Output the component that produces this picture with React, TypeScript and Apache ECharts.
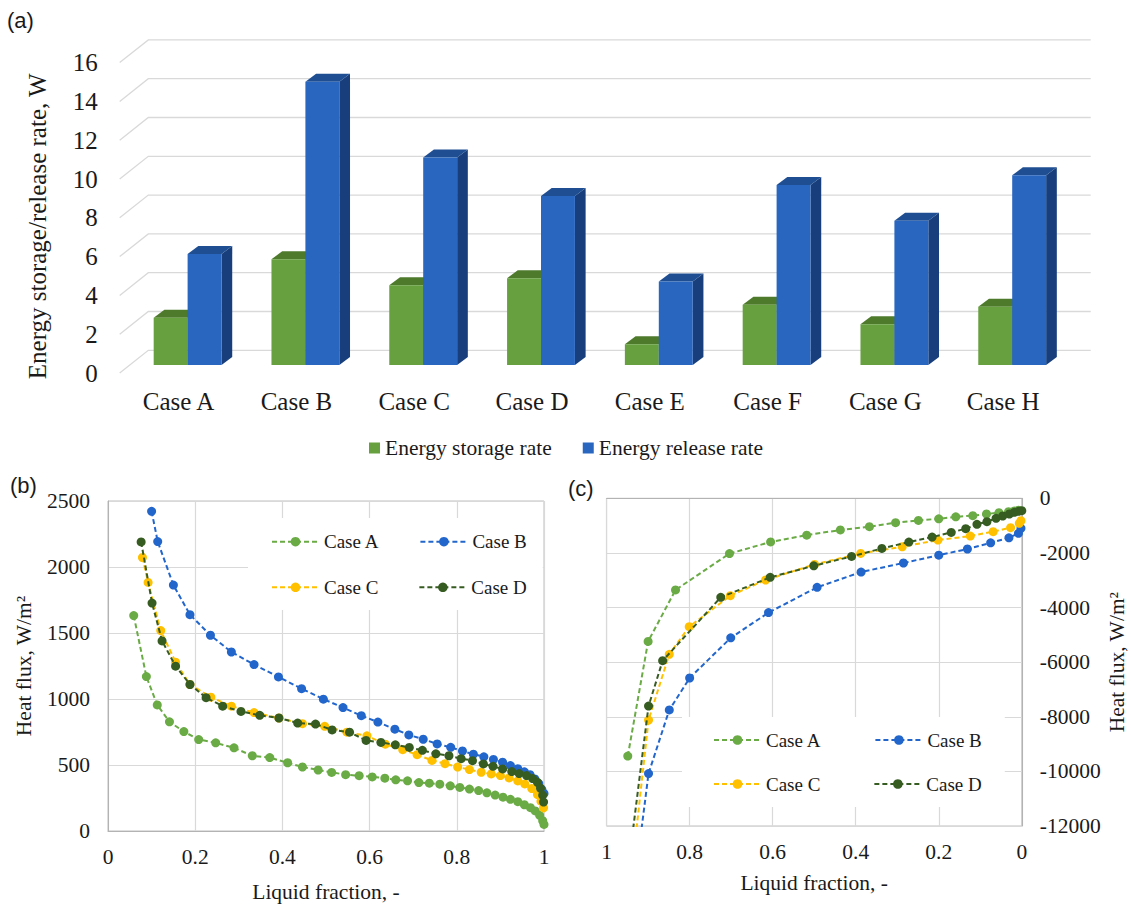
import React, { useEffect, useRef } from 'react';
import * as echarts from 'echarts';

// ---------- Panel (a) data ----------
const barCategories = ['Case A', 'Case B', 'Case C', 'Case D', 'Case E', 'Case F', 'Case G', 'Case H'];
const storageRate = [2.44, 5.45, 4.11, 4.47, 1.07, 3.11, 2.1, 3.0];
const releaseRate = [5.72, 14.6, 10.7, 8.71, 4.3, 9.28, 7.44, 9.78];
const barTicks = [0, 2, 4, 6, 8, 10, 12, 14, 16];

// ---------- Panel (b) data ----------
const bAx = [0.059, 0.088, 0.113, 0.141, 0.174, 0.208, 0.247, 0.289, 0.331, 0.371, 0.412, 0.446, 0.482, 0.513, 0.545, 0.576, 0.606, 0.635, 0.66, 0.687, 0.713, 0.737, 0.761, 0.785, 0.807, 0.829, 0.85, 0.869, 0.888, 0.906, 0.923, 0.94, 0.955, 0.969, 0.98, 0.99, 0.997, 1.0];
const bAy = [1632, 1170, 955, 827, 753, 693, 668, 630, 570, 556, 517, 485, 462, 444, 427, 419, 410, 400, 388, 380, 367, 362, 355, 342, 330, 318, 306, 289, 272, 256, 240, 222, 199, 177, 152, 119, 78, 50];
const bBx = [0.1, 0.114, 0.15, 0.188, 0.235, 0.283, 0.335, 0.391, 0.444, 0.494, 0.539, 0.581, 0.619, 0.658, 0.69, 0.723, 0.755, 0.786, 0.813, 0.838, 0.862, 0.884, 0.905, 0.923, 0.94, 0.955, 0.968, 0.979, 0.988, 0.995, 1.0];
const bBy = [2422, 2193, 1863, 1639, 1483, 1356, 1261, 1167, 1078, 999, 935, 874, 825, 771, 728, 695, 660, 634, 606, 582, 562, 542, 521, 496, 472, 448, 426, 394, 359, 315, 285];
const bCx = [0.079, 0.092, 0.121, 0.155, 0.188, 0.236, 0.283, 0.335, 0.392, 0.446, 0.497, 0.548, 0.594, 0.636, 0.676, 0.709, 0.743, 0.773, 0.802, 0.829, 0.856, 0.879, 0.9, 0.92, 0.94, 0.956, 0.972, 0.985, 0.993, 0.999];
const bCy = [2072, 1883, 1518, 1279, 1110, 1014, 946, 897, 856, 813, 793, 749, 721, 658, 616, 578, 535, 510, 485, 465, 445, 432, 420, 402, 379, 357, 322, 276, 226, 176];
const bDx = [0.076, 0.101, 0.124, 0.155, 0.188, 0.225, 0.263, 0.305, 0.348, 0.392, 0.435, 0.476, 0.514, 0.554, 0.592, 0.626, 0.659, 0.691, 0.721, 0.752, 0.782, 0.81, 0.836, 0.861, 0.883, 0.905, 0.926, 0.943, 0.96, 0.974, 0.985, 0.992, 0.997, 0.999];
const bDy = [2190, 1727, 1440, 1249, 1110, 1010, 946, 906, 876, 856, 818, 810, 766, 749, 686, 671, 653, 633, 611, 585, 570, 548, 533, 508, 490, 470, 450, 435, 420, 397, 369, 324, 271, 219];

// ---------- Panel (c) data ----------
const cAx = [0.949, 0.9, 0.834, 0.704, 0.605, 0.518, 0.437, 0.367, 0.304, 0.249, 0.2, 0.159, 0.118, 0.085, 0.055, 0.032, 0.018, 0.008];
const cAy = [-9440, -5240, -3356, -2025, -1599, -1349, -1160, -1039, -892, -810, -750, -680, -635, -575, -526, -489, -462, -435];
const cBx = [0.94, 0.899, 0.849, 0.8, 0.701, 0.61, 0.493, 0.387, 0.285, 0.2, 0.131, 0.075, 0.031, 0.008, 0.002];
const cBy = [-15000, -10080, -7750, -6580, -5110, -4185, -3260, -2700, -2370, -2082, -1857, -1630, -1447, -1282, -1100];
const cCx = [0.949, 0.899, 0.849, 0.801, 0.702, 0.617, 0.499, 0.388, 0.288, 0.202, 0.124, 0.069, 0.027, 0.006, 0.002];
const cCy = [-15000, -8120, -5714, -4701, -3565, -2991, -2422, -2018, -1774, -1529, -1382, -1223, -1076, -917, -820];
const cDx = [0.96, 0.899, 0.865, 0.725, 0.606, 0.501, 0.41, 0.337, 0.272, 0.216, 0.17, 0.135, 0.108, 0.084, 0.062, 0.046, 0.03, 0.018, 0.008, 0.0];
const cDy = [-15000, -7607, -5946, -3626, -2894, -2471, -2128, -1835, -1602, -1419, -1248, -1113, -954, -856, -734, -648, -575, -514, -477, -453];

const caseNames = ['Case A', 'Case B', 'Case C', 'Case D'];
const caseColors = ['#6AAB45', '#2266CC', '#FFC000', '#375C22'];

const SERIF = "'Liberation Serif', 'Times New Roman', serif";
const SANS = "'Liberation Sans', Arial, sans-serif";
const TXT = '#1a1a1a';

const zip = (xs: number[], ys: number[]) => xs.map((x, i) => [x, ys[i]]);

// 3D geometry (pixels)
const FRONT = [9, -8];
const DEPTH = [10.7, -8];
const WALL = [28.6, -22.7];
const BAR_RATIO = 0.288;

function barRender(side: number, colors: { front: string; top: string; side: string }) {
  return (params: any, api: any) => {
    const ci = api.value(0);
    const v = api.value(1);
    const base = api.coord([ci, 0]);
    const top = api.coord([ci, v]);
    const bw = api.size([1, 0])[0] * BAR_RATIO;
    const x0 = base[0] + FRONT[0] + (side === 0 ? -bw : 0);
    const x1 = x0 + bw;
    const yb = base[1] + FRONT[1];
    const yt = top[1] + FRONT[1];
    const dx = DEPTH[0];
    const dy = DEPTH[1];
    return {
      type: 'group',
      children: [
        {
          type: 'polygon',
          shape: { points: [[x1, yt], [x1 + dx, yt + dy], [x1 + dx, yb + dy], [x1, yb]] },
          style: { fill: colors.side },
        },
        {
          type: 'polygon',
          shape: { points: [[x0, yt], [x1, yt], [x1 + dx, yt + dy], [x0 + dx, yt + dy]] },
          style: { fill: colors.top },
        },
        {
          type: 'rect',
          shape: { x: x0, y: yt, width: bw, height: yb - yt },
          style: { fill: colors.front },
        },
      ],
    };
  };
}

function wallRender(params: any, api: any) {
  const y = api.coord([0, api.value(1)])[1];
  const cs = params.coordSys;
  return {
    type: 'polyline',
    shape: {
      points: [
        [cs.x, y],
        [cs.x + WALL[0], y + WALL[1]],
        [cs.x + cs.width + WALL[0], y + WALL[1]],
      ],
    },
    style: { stroke: '#d9d9d9', lineWidth: 1.3, fill: null },
    silent: true,
  };
}

function lineSeries(name: string, idx: number, data: number[][], axisIndex: number) {
  return {
    name,
    type: 'line',
    xAxisIndex: axisIndex,
    yAxisIndex: axisIndex,
    data,
    symbol: 'circle',
    symbolSize: 9,
    clip: true,
    lineStyle: { type: [5, 3], width: 2, color: caseColors[idx] },
    itemStyle: { color: caseColors[idx] },
    z: 3 + idx,
  };
}

const numFmt = (v: number) => String(v);

export default function App() {
  const ref = useRef<HTMLDivElement>(null);
  useEffect(() => {
    if (!ref.current) return;
    const chart = echarts.init(ref.current, undefined, { renderer: 'svg' });
    const legendText = { fontFamily: SERIF, fontSize: 19, color: TXT, lineHeight: 22 };
    const option: any = {
      animation: false,
      backgroundColor: '#ffffff',
      textStyle: { fontFamily: SERIF },
      grid: [
        { left: 119.7, top: 62.6, width: 942.4, height: 310.4 },
        { left: 108, top: 501, width: 436, height: 330, show: true, borderColor: '#bfbfbf', borderWidth: 1 },
        { left: 606.6, top: 498.3, width: 415.2, height: 327.7, show: true, borderColor: '#bfbfbf', borderWidth: 1 },
      ],
      xAxis: [
        {
          gridIndex: 0,
          type: 'category',
          data: barCategories,
          boundaryGap: true,
          axisLine: { show: false },
          axisTick: { show: false },
          splitLine: { show: false },
          axisLabel: { fontFamily: SERIF, fontSize: 25, color: TXT, margin: 16 },
        },
        {
          gridIndex: 1,
          type: 'value',
          min: 0,
          max: 1,
          interval: 0.2,
          axisLine: { show: true, lineStyle: { color: '#b3b3b3', width: 1 } },
          axisTick: { show: false },
          splitLine: { show: true, lineStyle: { color: '#d9d9d9', width: 1.2 } },
          axisLabel: { fontFamily: SERIF, fontSize: 21.5, color: TXT, margin: 15, formatter: numFmt },
          name: 'Liquid fraction, -',
          nameLocation: 'middle',
          nameGap: 50,
          nameTextStyle: { fontFamily: SERIF, fontSize: 21.5, color: TXT },
        },
        {
          gridIndex: 2,
          type: 'value',
          min: 0,
          max: 1,
          interval: 0.2,
          inverse: true,
          axisLine: { show: true, lineStyle: { color: '#b3b3b3', width: 1 } },
          axisTick: { show: false },
          splitLine: { show: true, lineStyle: { color: '#d9d9d9', width: 1.2 } },
          axisLabel: { fontFamily: SERIF, fontSize: 21.5, color: TXT, margin: 15, formatter: numFmt },
          name: 'Liquid fraction, -',
          nameLocation: 'middle',
          nameGap: 46,
          nameTextStyle: { fontFamily: SERIF, fontSize: 21.5, color: TXT },
        },
      ],
      yAxis: [
        {
          gridIndex: 0,
          type: 'value',
          min: 0,
          max: 16,
          interval: 2,
          axisLine: { show: false },
          axisTick: { show: false },
          splitLine: { show: false },
          axisLabel: { fontFamily: SERIF, fontSize: 25, color: TXT, margin: 22, formatter: numFmt },
          name: 'Energy storage/release rate, W',
          nameLocation: 'middle',
          nameRotate: 90,
          nameGap: 70,
          nameTextStyle: { fontFamily: SERIF, fontSize: 25, color: TXT, padding: [0, 17, 0, 0] },
        },
        {
          gridIndex: 1,
          type: 'value',
          min: 0,
          max: 2500,
          interval: 500,
          axisLine: { show: true, lineStyle: { color: '#b3b3b3', width: 1 } },
          axisTick: { show: false },
          splitLine: { show: true, lineStyle: { color: '#d9d9d9', width: 1.2 } },
          axisLabel: { fontFamily: SERIF, fontSize: 21.5, color: TXT, margin: 18, formatter: numFmt },
          name: 'Heat flux, W/m²',
          nameLocation: 'middle',
          nameRotate: 90,
          nameGap: 73,
          nameTextStyle: { fontFamily: SERIF, fontSize: 21.5, color: TXT },
        },
        {
          gridIndex: 2,
          type: 'value',
          position: 'right',
          min: -12000,
          max: 0,
          interval: 2000,
          axisLine: { show: true, lineStyle: { color: '#b3b3b3', width: 1 } },
          axisTick: { show: false },
          splitLine: { show: true, lineStyle: { color: '#d9d9d9', width: 1.2 } },
          axisLabel: { fontFamily: SERIF, fontSize: 21.5, color: TXT, margin: 18, align: 'left', formatter: numFmt },
          name: 'Heat flux, W/m²',
          nameLocation: 'middle',
          nameRotate: 90,
          nameGap: 84,
          nameTextStyle: { fontFamily: SERIF, fontSize: 21.5, color: TXT },
        },
      ],
      legend: [
        {
          data: ['Energy storage rate', 'Energy release rate'],
          left: 369,
          top: 436,
          padding: 0,
          icon: 'rect',
          itemWidth: 11,
          itemHeight: 11,
          itemGap: 31,
          textStyle: { fontFamily: SERIF, fontSize: 21.5, color: TXT, lineHeight: 24 },
        },
        {
          data: ['Case A', 'Case B'],
          left: 248,
          top: 518,
          padding: [12.7, 16, 11.3, 23],
          backgroundColor: '#ffffff',
          itemWidth: 47,
          itemHeight: 12,
          itemGap: 40,
          textStyle: legendText,
        },
        {
          data: ['Case C', 'Case D'],
          left: 248,
          top: 564,
          padding: [12.3, 16, 11.7, 23],
          backgroundColor: '#ffffff',
          itemWidth: 47,
          itemHeight: 12,
          itemGap: 40,
          textStyle: legendText,
        },
        {
          data: ['Case A', 'Case B'],
          left: 682,
          top: 717,
          padding: [12, 23, 11, 31],
          backgroundColor: '#ffffff',
          itemWidth: 47,
          itemHeight: 12,
          itemGap: 53,
          textStyle: legendText,
        },
        {
          data: ['Case C', 'Case D'],
          left: 682,
          top: 762,
          padding: [11, 23, 12, 31],
          backgroundColor: '#ffffff',
          itemWidth: 47,
          itemHeight: 12,
          itemGap: 53,
          textStyle: legendText,
        },
      ],
      graphic: [
        { type: 'text', left: 7, top: 9, style: { text: '(a)', font: `22px ${SANS}`, fill: TXT } },
        { type: 'text', left: 10, top: 474, style: { text: '(b)', font: `22px ${SANS}`, fill: TXT } },
        { type: 'text', left: 568, top: 477, style: { text: '(c)', font: `22px ${SANS}`, fill: TXT } },
      ],
      series: [
        {
          name: 'wall',
          type: 'custom',
          xAxisIndex: 0,
          yAxisIndex: 0,
          data: barTicks.map((t) => [0, t]),
          encode: { x: 0, y: 1 },
          renderItem: wallRender,
          silent: true,
          z: 1,
        },
        {
          name: 'Energy storage rate',
          type: 'custom',
          xAxisIndex: 0,
          yAxisIndex: 0,
          data: storageRate.map((v, i) => [i, v]),
          encode: { x: 0, y: 1 },
          itemStyle: { color: '#67A03F' },
          renderItem: barRender(0, { front: '#67A03F', top: '#4E7A2C', side: '#3F6524' }),
          z: 2,
        },
        {
          name: 'Energy release rate',
          type: 'custom',
          xAxisIndex: 0,
          yAxisIndex: 0,
          data: releaseRate.map((v, i) => [i, v]),
          encode: { x: 0, y: 1 },
          itemStyle: { color: '#2966C0' },
          renderItem: barRender(1, { front: '#2966C0', top: '#1F4F92', side: '#183F7C' }),
          z: 2,
        },
        lineSeries(caseNames[0], 0, zip(bAx, bAy), 1),
        lineSeries(caseNames[1], 1, zip(bBx, bBy), 1),
        lineSeries(caseNames[2], 2, zip(bCx, bCy), 1),
        lineSeries(caseNames[3], 3, zip(bDx, bDy), 1),
        lineSeries(caseNames[0], 0, zip(cAx, cAy), 2),
        lineSeries(caseNames[1], 1, zip(cBx, cBy), 2),
        lineSeries(caseNames[2], 2, zip(cCx, cCy), 2),
        lineSeries(caseNames[3], 3, zip(cDx, cDy), 2),
      ],
    };
    chart.setOption(option);
    return () => {
      chart.dispose();
    };
  }, []);
  return (
    <div
      ref={ref}
      style={{ position: 'absolute', left: 0, top: 0, width: 1131, height: 905, background: '#fff' }}
    />
  );
}
